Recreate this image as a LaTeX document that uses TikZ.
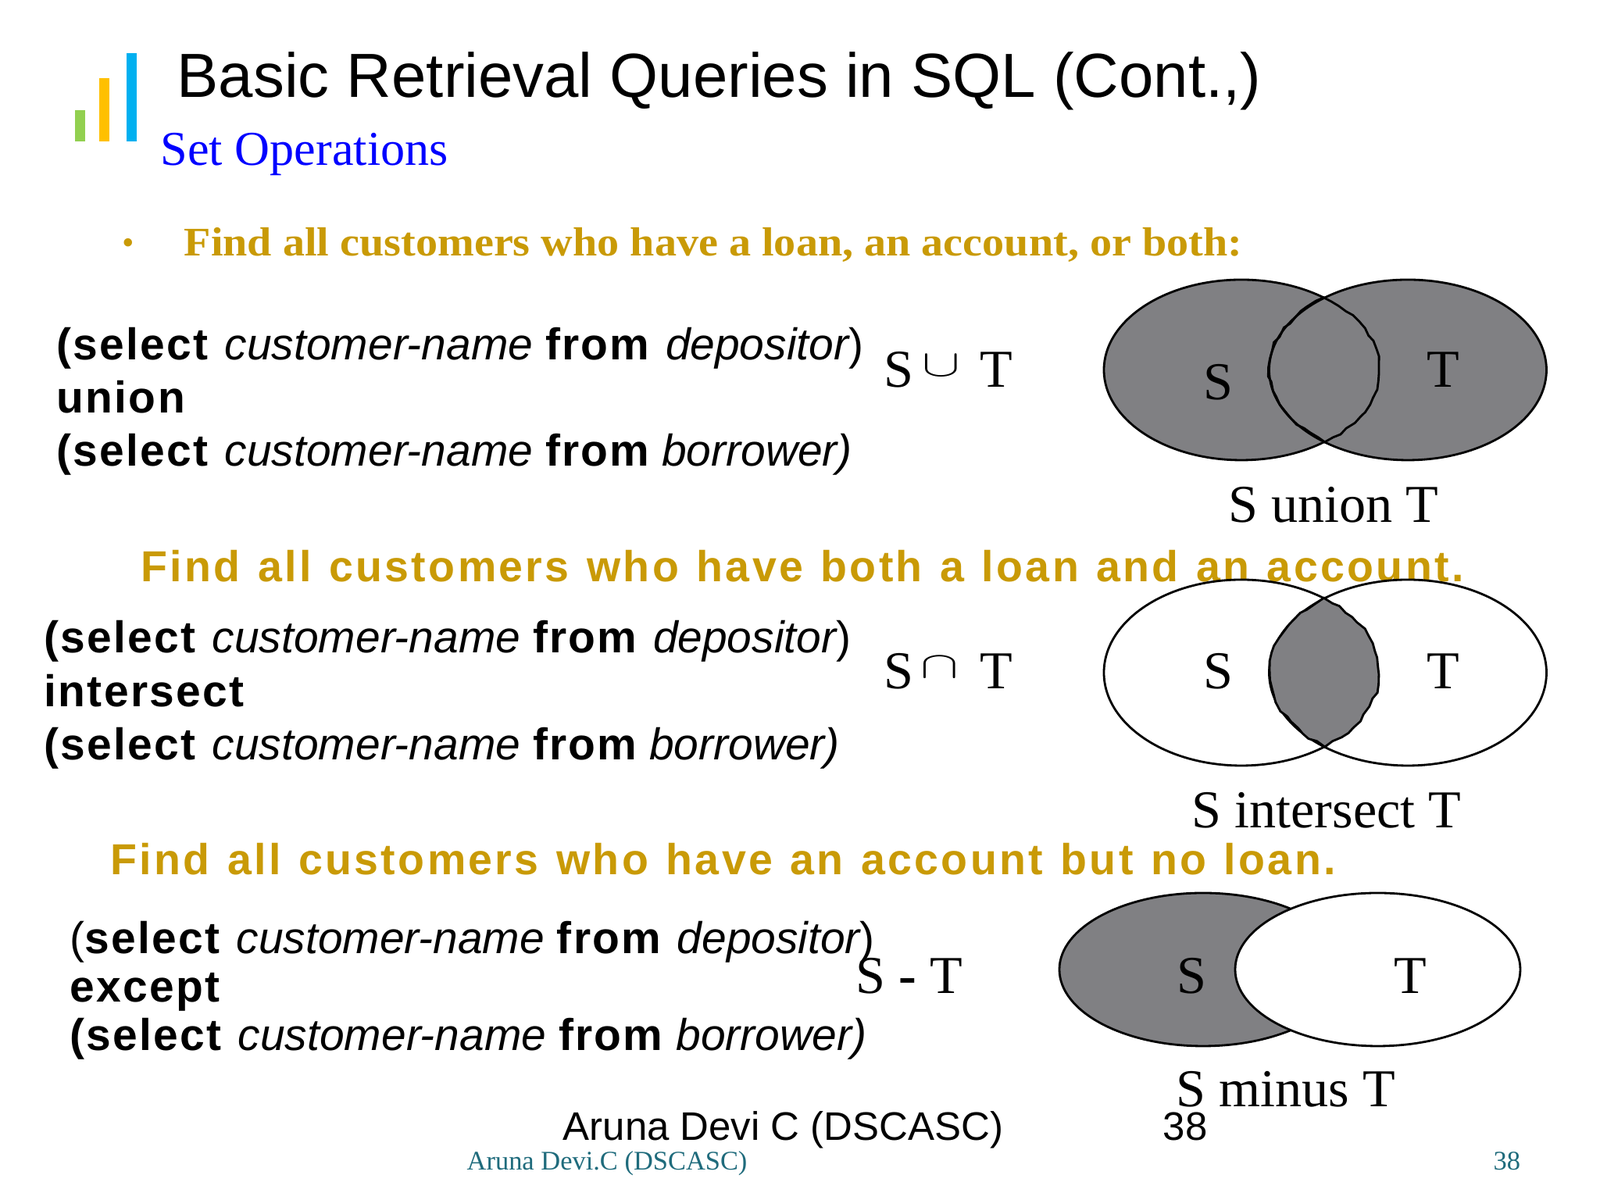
\documentclass[tikz,border=0pt]{standalone}
\usepackage{fontspec}
\usepackage{graphicx}
\usetikzlibrary{decorations.pathmorphing}
\setmainfont{Liberation Serif}
\setsansfont{Liberation Sans}
\newfontfamily\spacedsans[LetterSpace=6,WordSpace=1.2]{Liberation Sans}
\newfontfamily\sqlsans[LetterSpace=4]{Liberation Sans}
\newfontfamily\wideserif[FakeStretch=1.08]{Liberation Serif}
\definecolor{gold}{HTML}{C99A06}
\definecolor{shade}{HTML}{808083}
\definecolor{tealfoot}{HTML}{1F6B7C}
\newcommand{\kw}[1]{{\sqlsans\bfseries #1}}
\newcommand{\nm}[1]{{\sffamily\itshape #1}}
\tikzset{
  txt/.style={inner sep=0pt, anchor=base west},
  ctr/.style={inner sep=0pt, anchor=base},
  sql/.style={txt, font=\sffamily\fontsize{16.2}{18}\selectfont},
  times/.style={font=\rmfamily\fontsize{19.4}{22}\selectfont},
  goldbar/.style={txt, text=gold, font=\spacedsans\bfseries\fontsize{15.8}{20}\selectfont},
  setsign/.style={ctr, font=\fontsize{21}{24}\selectfont},
  venn/.style={draw=black, line width=0.8pt},
  lens/.style={draw=black, line width=0.8pt, decorate, decoration={random steps, segment length=3pt, amplitude=0.5pt}},
}
\begin{document}
\begin{tikzpicture}
  \useasboundingbox (0, 0) rectangle (20.48, 15.36);
  \fill[white] (0, 0) rectangle (20.48, 15.36);

  % corner bars
  \fill[fill={rgb,255:red,146;green,208;blue,80}] (0.96, 13.55) rectangle (1.09, 13.95);
  \fill[fill={rgb,255:red,255;green,192;blue,0}] (1.27, 13.55) rectangle (1.40, 14.36);
  \fill[fill={rgb,255:red,0;green,176;blue,240}] (1.62, 13.55) rectangle (1.75, 14.68);

  \node[txt, font=\sffamily\fontsize{22.7}{28}\selectfont] (title) at (2.26, 14.11) {Basic Retrieval Queries in SQL (Cont.,)};
  \node[txt, text=blue, font=\rmfamily\fontsize{17.7}{20}\selectfont] (subtitle) at (2.05, 13.24) {Set Operations};

  \node[ctr, text=gold, font=\rmfamily\bfseries\fontsize{11}{14}\selectfont] (bullet) at (1.64, 12.12) {•};
  \node[txt, text=gold, font=\wideserif\bfseries\fontsize{14.8}{18}\selectfont] (unionhead) at (2.35, 12.08) {Find all customers who have a loan, an account, or both:};
  \node[goldbar] (interhead) at (1.80, 7.91) {Find all customers who have both a loan and an account.};
  \node[goldbar] (minushead) at (1.41, 4.16) {Find all customers who have an account but no loan.};

  % union
  \node[sql] (sqla) at (0.72, 10.75) {\kw{(select}\hspace{1.5pt} \nm{customer-name} \kw{from}\hspace{0.36em}\nm{depositor}{\sffamily)}};
  \node[sql] (sqlb) at (0.72, 10.07) {\kw{union}};
  \node[sql] (sqlc) at (0.72, 9.39) {\kw{(select}\hspace{1.5pt} \nm{customer-name} \kw{from} \nm{borrower)}};
  \node[txt, times] (unions) at (11.31, 10.40) {S};
  \node[setsign] (unioncup) at (12.05, 10.54) {\scalebox{1}[0.66]{$\cup$}};
  \node[txt, times] (uniont) at (12.54, 10.40) {T};

  \draw[venn, fill=shade] (15.89, 10.625) ellipse [x radius=1.76, y radius=1.155];
  \draw[venn, fill=shade] (18.02, 10.625) ellipse [x radius=1.775, y radius=1.155];
  \draw[lens] (16.955, 11.545) arc [start angle=52.8, end angle=-52.8, x radius=1.76, y radius=1.155]
    arc [start angle=233, end angle=127, x radius=1.775, y radius=1.155] -- cycle;
  \node[ctr, times] (unionS) at (15.59, 10.24) {S};
  \node[ctr, times] (unionT) at (18.47, 10.40) {T};
  \node[ctr, times] (unioncap) at (17.07, 8.67) {S union T};

  % intersect
  \node[sql] (sqld) at (0.56, 7.00) {\kw{(select}\hspace{1.5pt} \nm{customer-name} \kw{from}\hspace{0.36em}\nm{depositor}{\sffamily)}};
  \node[sql] (sqle) at (0.56, 6.31) {\kw{intersect}};
  \node[sql] (sqlf) at (0.56, 5.63) {\kw{(select}\hspace{1.5pt} \nm{customer-name} \kw{from} \nm{borrower)}};
  \node[txt, times] (inters) at (11.31, 6.54) {S};
  \node[setsign] (intercap) at (12.03, 6.68) {\scalebox{1}[0.66]{$\cap$}};
  \node[txt, times] (intert) at (12.54, 6.54) {T};

  \draw[venn, fill=white] (15.89, 6.75) ellipse [x radius=1.76, y radius=1.19];
  \draw[venn, fill=white] (18.02, 6.75) ellipse [x radius=1.775, y radius=1.19];
  \draw[lens, fill=shade] (16.955, 7.70) arc [start angle=52.8, end angle=-52.8, x radius=1.76, y radius=1.19]
    arc [start angle=233, end angle=127, x radius=1.775, y radius=1.19] -- cycle;
  \node[ctr, times] (interS) at (15.59, 6.54) {S};
  \node[ctr, times] (interT) at (18.47, 6.54) {T};
  \node[ctr, times] (intercaption) at (16.98, 4.76) {S intersect T};

  % minus
  \node[sql] (sqlg) at (0.89, 3.15) {{\sffamily(}\kw{select}\hspace{1.5pt} \nm{customer-name} \kw{from}\hspace{0.36em}\nm{depositor}{\sffamily)}};
  \node[sql] (sqlh) at (0.89, 2.53) {\kw{except}};
  \node[sql] (sqli) at (0.89, 1.91) {\kw{(select}\hspace{1.5pt} \nm{customer-name} \kw{from}\hspace{0.3em}\nm{borrower)}};
  \node[txt, times] (minusexpr) at (10.95, 2.64) {S \textbf{-} T};

  \draw[venn, fill=shade] (15.40, 2.95) ellipse [x radius=1.84, y radius=0.98];
  \draw[venn, fill=white] (17.635, 2.95) ellipse [x radius=1.825, y radius=0.98];
  \node[ctr, times] (minusS) at (15.25, 2.64) {S};
  \node[ctr, times] (minusT) at (18.05, 2.64) {T};
  \node[ctr, times] (minuscap) at (16.46, 1.19) {S minus T};

  % footers
  \node[txt, font=\sffamily\fontsize{14.5}{17}\selectfont] (footname) at (7.20, 0.76) {Aruna Devi C (DSCASC)};
  \node[txt, font=\sffamily\fontsize{14.5}{17}\selectfont] (footnum) at (14.88, 0.76) {38};
  \node[txt, text=tealfoot, font=\rmfamily\fontsize{9.8}{12}\selectfont] (tealname) at (5.97, 0.38) {Aruna Devi.C (DSCASC)};
  \node[txt, text=tealfoot, font=\rmfamily\fontsize{9.8}{12}\selectfont] (tealnum) at (19.11, 0.38) {38};
\end{tikzpicture}
\end{document}
